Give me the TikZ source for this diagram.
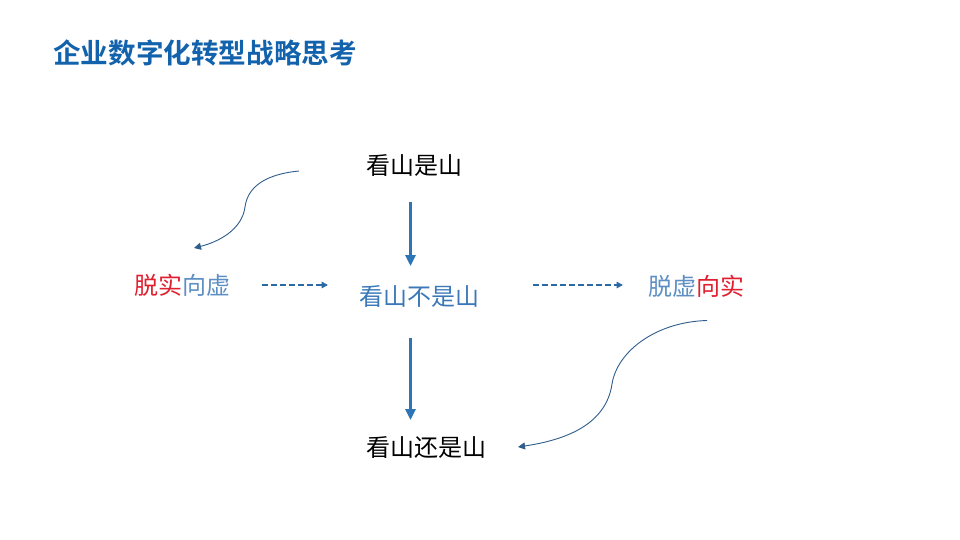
\documentclass[tikz,border=0pt]{standalone}
\usepackage{fontspec}
\usetikzlibrary{arrows.meta}
\newfontfamily\cjk{Noto Sans CJK SC}
\newfontfamily\cjkbold{Noto Sans CJK SC Bold}
\definecolor{titleblue}{HTML}{1262AC}
\definecolor{myred}{HTML}{E0202E}
\definecolor{greyblue}{HTML}{5E8FC4}
\definecolor{midblue}{HTML}{3A78B8}
\definecolor{arrowblue}{HTML}{2E75B6}
\definecolor{curveblue}{HTML}{2F5D8C}
\tikzset{
  lbl/.style={inner sep=0pt, anchor=base west, font=\cjk\fontsize{24}{26}\selectfont},
  varrow/.style={draw=arrowblue, line width=2.6pt, -{Triangle[width=10pt,length=11pt]}},
  darrow/.style={draw=arrowblue!90!black, line width=1.5pt, dash pattern=on 5.5pt off 3.5pt, -{Triangle[width=6.5pt,length=6.5pt]}},
  carrow/.style={draw=curveblue, line width=0.9pt, -{Triangle[width=7pt,length=7pt]}}
}
\begin{document}
\begin{tikzpicture}[x=1pt,y=-1pt]
\useasboundingbox (0,0) rectangle (960,540);
\fill[white] (0,0) rectangle (960,540);
\node[inner sep=0pt, anchor=base west, text=titleblue, font=\cjkbold\fontsize{27.6}{30}\selectfont] (title) at (53,63.5) {企业数字化转型战略思考};
\node[lbl] (n1) at (366,175) {看山是山};
\node[lbl, text=midblue] (n2) at (359,305.5) {看山不是山};
\node[lbl] (n3) at (366,456) {看山还是山};
\node[lbl] (l) at (134,294) {\textcolor{myred}{脱实}\textcolor{greyblue}{向虚}};
\node[lbl] (r) at (648,295) {\textcolor{greyblue}{脱虚}\textcolor{myred}{向实}};
% vertical arrows
\coordinate (v1s) at (410.5,202);
\coordinate (v1e) at (410.5,266);
\coordinate (v2s) at (410.5,338);
\coordinate (v2e) at (410.5,420);
\draw[varrow] (v1s) -- (v1e);
\draw[varrow] (v2s) -- (v2e);
% dashed arrows
\coordinate (d1s) at (262,285);
\coordinate (d1e) at (328,285);
\coordinate (d2s) at (533,285);
\coordinate (d2e) at (623,285);
\draw[darrow] (d1s) -- (d1e);
\draw[darrow] (d2s) -- (d2e);
% curved arrows
\coordinate (c1s) at (299,171);
\coordinate (c1m) at (245,207);
\coordinate (c1e) at (194,248);
\draw[carrow] (c1s) .. controls (258,175) and (247,192) .. (c1m) .. controls (242,230) and (218,242) .. (c1e);
\coordinate (c2s) at (707,320.5);
\coordinate (c2m) at (612,384);
\coordinate (c2e) at (518,447);
\draw[carrow] (c2s) .. controls (655,322) and (617,352) .. (c2m) .. controls (606,425) and (565,440) .. (c2e);
\end{tikzpicture}
\end{document}
